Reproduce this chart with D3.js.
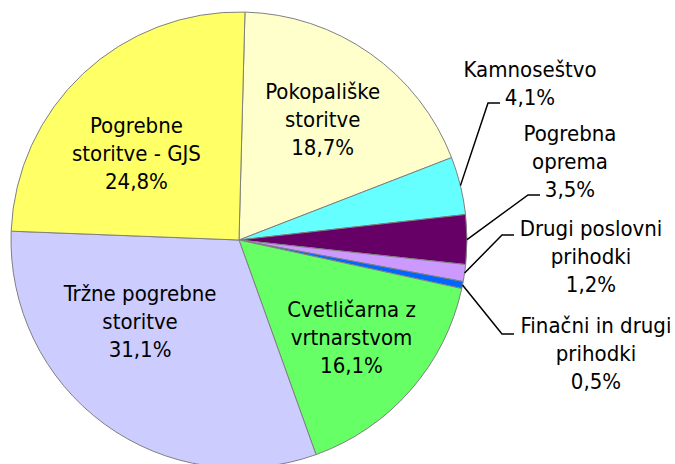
<!DOCTYPE html>
<html>
<head>
<meta charset="utf-8">
<script src="https://cdn.jsdelivr.net/npm/d3@7"></script>
<style>
  body { margin: 0; background: #fff; }
  text { font-family: "DejaVu Sans Condensed", "DejaVu Sans", sans-serif; font-size: 22px; fill: #000; }
</style>
</head>
<body>
<div class="pie"></div>
<script>
// data, in the order Excel draws it (clockwise from the top)
let categories = [
    ["Pokopališke", "storitve"],
    ["Kamnoseštvo"],
    ["Pogrebna", "oprema"],
    ["Drugi poslovni", "prihodki"],
    ["Finačni in drugi", "prihodki"],
    ["Cvetličarna z", "vrtnarstvom"],
    ["Tržne pogrebne", "storitve"],
    ["Pogrebne", "storitve - GJS"]
];
let shares = [18.7, 4.1, 3.5, 1.2, 0.5, 16.1, 31.1, 24.8];
let colors = ["#FFFFCC", "#66FFFF", "#660066", "#CC99FF", "#0066FF", "#66FF66", "#CCCCFF", "#FFFF66"];

let svgWidth = 675;
let svgHeight = 464;
let cx = 239, cy = 240, radius = 228;
let startOffset = 1.5 * Math.PI / 180;
let lineGap = 28;

// label layout: inside labels get a shift from the centroid,
// outside labels get a spot (centre x, first baseline) and a leader end
let inside = [true, false, false, false, false, true, true, true];
let labelShift = [[-1, 0], null, null, null, null, [2, 1], [-12, -37], [-2, 21]];
let outsideSpot = [null, [530, 77], [570, 141], [591, 236], [596, 333], null, null, null];
let leaderEnd = [null, [500, 103], [540, 195], [514, 235], [514, 334], null, null, null];

let svg = d3
    .select(".pie")
    .append("svg")
    .attr("width", svgWidth)
    .attr("height", svgHeight);
let chartgroup = svg.append("g")
    .attr("transform", `translate(${cx}, ${cy})`);

let pie = d3.pie()
    .sort(null)
    .value(d => d)
    .startAngle(startOffset)
    .endAngle(startOffset + 2 * Math.PI);
let arcs = pie(shares);

let arc = d3.arc().innerRadius(0).outerRadius(radius);
let labelArc = d3.arc().innerRadius(radius * 0.645).outerRadius(radius * 0.645);

chartgroup.selectAll("path")
    .data(arcs)
    .enter()
    .append("path")
    .attr("d", arc)
    .attr("fill", (d, i) => colors[i])
    .attr("stroke", "#808080")
    .attr("stroke-width", 1);

let fmt = v => v.toFixed(1).replace(".", ",") + "%";

arcs.forEach(function(d, i) {
    let lines = categories[i].concat([fmt(shares[i])]);
    if (inside[i]) {
        let c = labelArc.centroid(d);
        let x = c[0] + labelShift[i][0];
        let y = c[1] + labelShift[i][1];
        let t = chartgroup.append("text").attr("text-anchor", "middle");
        lines.forEach(function(line, k) {
            t.append("tspan")
                .attr("x", x)
                .attr("y", y + (k - (lines.length - 1) / 2) * lineGap + 7)
                .text(line);
        });
    } else {
        let mid = (d.startAngle + d.endAngle) / 2;
        let p0 = [radius * Math.sin(mid), -radius * Math.cos(mid)];
        let end = [leaderEnd[i][0] - cx, leaderEnd[i][1] - cy];
        let elbow = [end[0] - 12, end[1]];
        chartgroup.append("path")
            .attr("d", d3.line()([p0, elbow, end]))
            .attr("fill", "none")
            .attr("stroke", "#000")
            .attr("stroke-width", 1.5);
        let sx = outsideSpot[i][0] - cx;
        let sy = outsideSpot[i][1] - cy;
        let t = chartgroup.append("text").attr("text-anchor", "middle");
        lines.forEach(function(line, k) {
            t.append("tspan")
                .attr("x", sx)
                .attr("y", sy + k * lineGap)
                .text(line);
        });
    }
});
</script>
</body>
</html>
